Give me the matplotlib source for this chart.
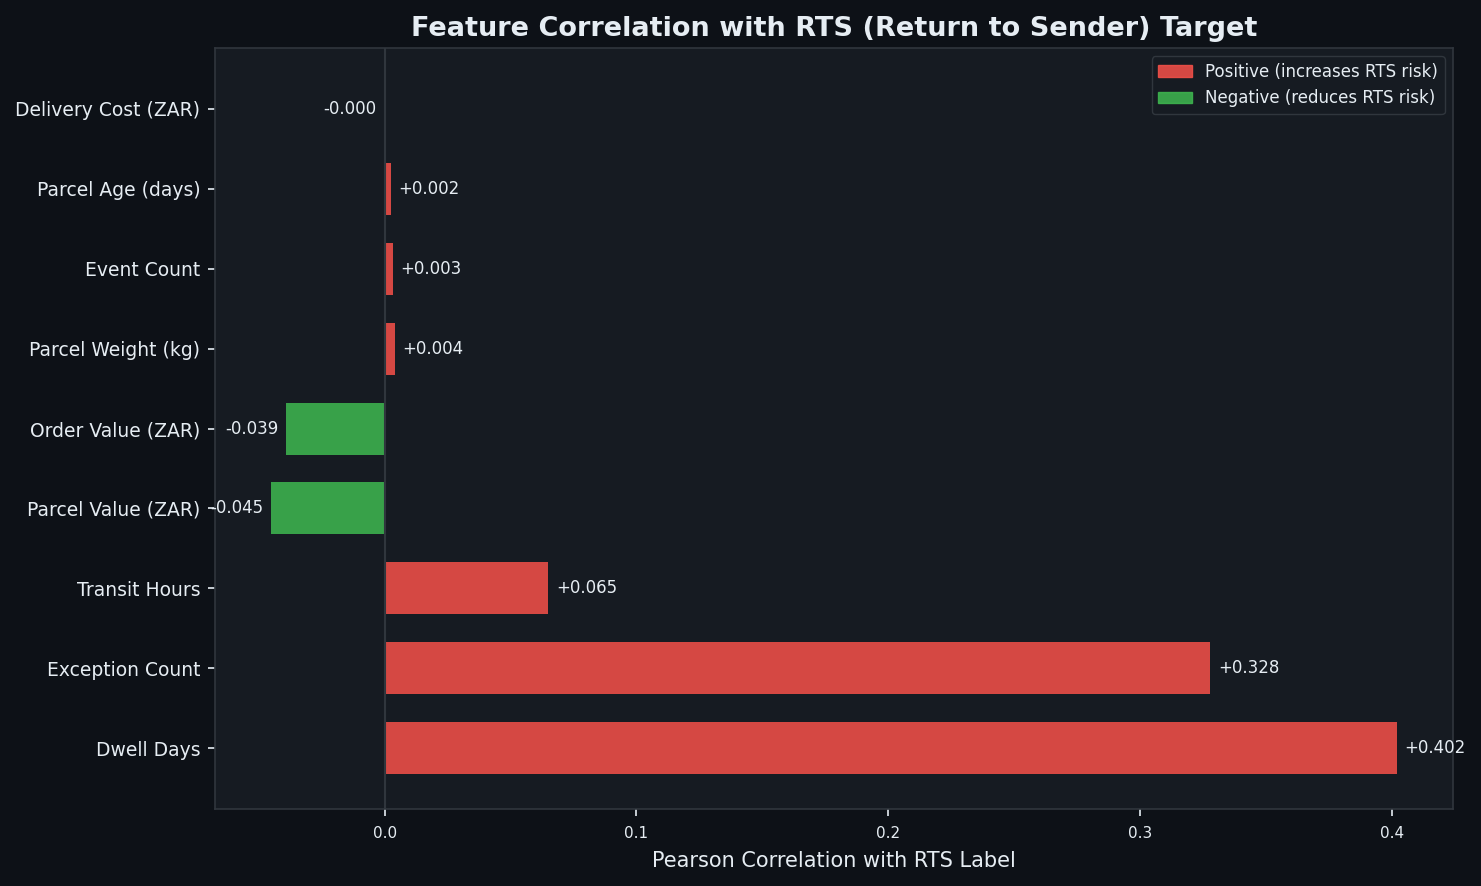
import matplotlib
matplotlib.use("Agg")
import matplotlib.pyplot as plt
from matplotlib.patches import Patch

# Feature correlations with the RTS label (bottom to top)
features = ["Dwell Days", "Exception Count", "Transit Hours", "Parcel Value (ZAR)",
            "Order Value (ZAR)", "Parcel Weight (kg)", "Event Count",
            "Parcel Age (days)", "Delivery Cost (ZAR)"]
corr = [0.402, 0.328, 0.065, -0.045, -0.039, 0.004, 0.0034, 0.0024, -0.0001]

BG = "#0d1117"
PANEL = "#161b22"
EDGE = "#30363d"
TEXT = "#e6edf3"
RED = "#f85149"
GREEN = "#3fb950"

fig, ax = plt.subplots(figsize=(14.81, 8.86), dpi=100)
fig.patch.set_facecolor(BG)
ax.set_facecolor(PANEL)
fig.subplots_adjust(left=0.1452, right=0.9811, top=0.9458, bottom=0.0869)

colors = [RED if c > 0 else GREEN for c in corr]
ax.barh(features, corr, height=0.65, color=colors, alpha=0.85)
ax.axvline(0, color=EDGE, linewidth=1.5, zorder=3)

for i, c in enumerate(corr):
    if c >= 0:
        ax.text(c + 0.003, i, f"+{c:.3f}", va="center", ha="left", color=TEXT, fontsize=12)
    else:
        ax.text(c - 0.003, i, f"{c:.3f}", va="center", ha="right", color=TEXT, fontsize=12)

ax.set_title("Feature Correlation with RTS (Return to Sender) Target",
             color=TEXT, fontsize=19.5, fontweight="bold", pad=9)
ax.set_xlabel("Pearson Correlation with RTS Label", color=TEXT, fontsize=15, labelpad=7)
ax.tick_params(axis="y", colors=TEXT, labelsize=13.5, length=5.25, width=1.2, pad=5.25)
ax.tick_params(axis="x", colors=TEXT, labelsize=11, length=5.25, width=1.2, pad=7)
for s in ax.spines.values():
    s.set_color(EDGE)
    s.set_linewidth(1.2)

handles = [Patch(facecolor=RED, edgecolor=RED, alpha=0.85, label="Positive (increases RTS risk)"),
           Patch(facecolor=GREEN, edgecolor=GREEN, alpha=0.85, label="Negative (reduces RTS risk)")]
leg = ax.legend(handles=handles, loc="upper right", facecolor=PANEL, edgecolor=EDGE,
                fontsize=12, framealpha=1, borderaxespad=0.5)
for t in leg.get_texts():
    t.set_color(TEXT)

fig.savefig("out.png", dpi=100, facecolor=BG)
